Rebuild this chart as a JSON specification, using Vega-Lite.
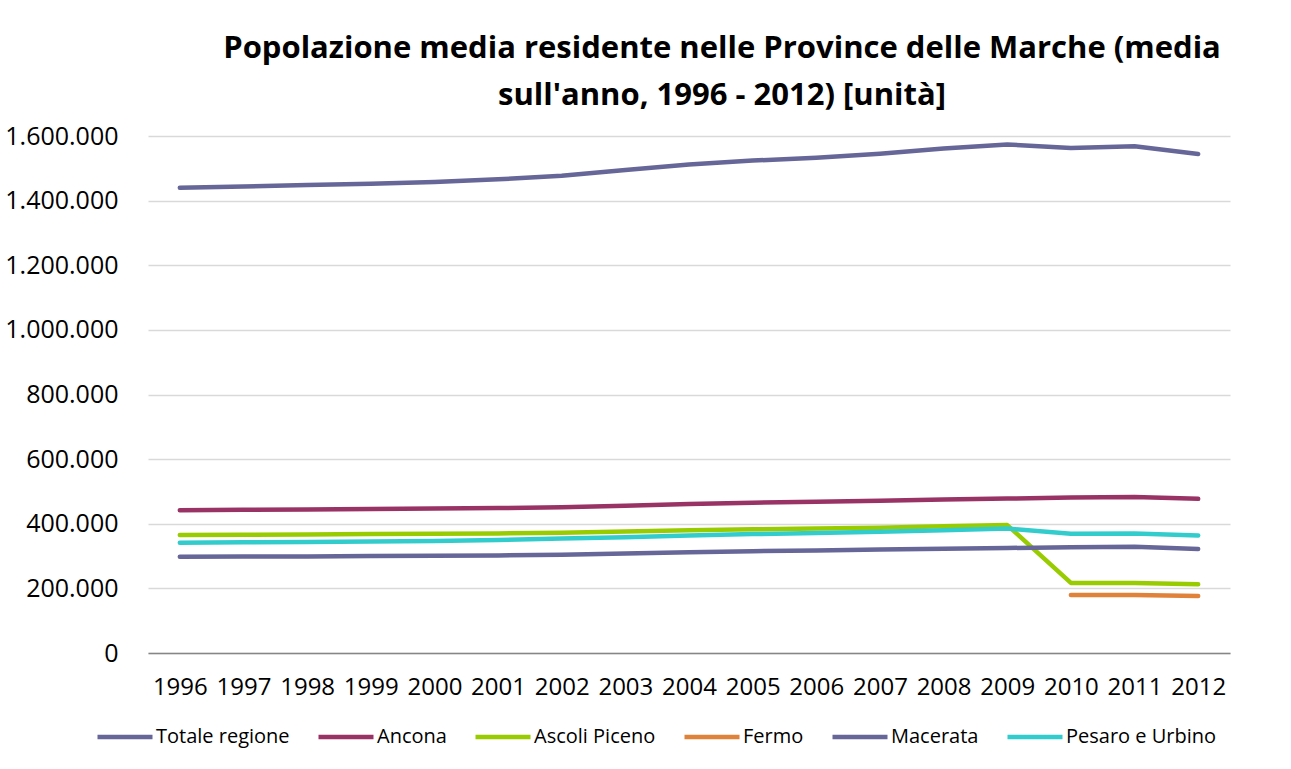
{
  "$schema": "https://vega.github.io/schema/vega-lite/v6.json",
  "width": 1082,
  "height": 517,
  "autosize": {"type": "none"},
  "padding": {"left": 148, "top": 136, "right": 61, "bottom": 116},
  "background": "white",
  "config": {
    "locale": {"number": {"decimal": ",", "thousands": ".", "grouping": [3], "currency": ["€", ""]}},
    "view": {"stroke": null},
    "font": "Open Sans"
  },
  "title": {
    "text": ["Popolazione media residente nelle Province delle Marche (media", "sull'anno, 1996 - 2012) [unità]"],
    "fontSize": 31,
    "fontWeight": "bold",
    "font": "Open Sans",
    "anchor": "middle",
    "dx": 33,
    "offset": 12,
    "lineHeight": 47,
    "color": "black"
  },
  "data": {
    "values": [
      {"anno": "1996", "provincia": "Totale regione", "valore": 1440000},
      {"anno": "1997", "provincia": "Totale regione", "valore": 1444000},
      {"anno": "1998", "provincia": "Totale regione", "valore": 1448000},
      {"anno": "1999", "provincia": "Totale regione", "valore": 1452000},
      {"anno": "2000", "provincia": "Totale regione", "valore": 1458000},
      {"anno": "2001", "provincia": "Totale regione", "valore": 1466000},
      {"anno": "2002", "provincia": "Totale regione", "valore": 1477000},
      {"anno": "2003", "provincia": "Totale regione", "valore": 1495000},
      {"anno": "2004", "provincia": "Totale regione", "valore": 1512000},
      {"anno": "2005", "provincia": "Totale regione", "valore": 1524000},
      {"anno": "2006", "provincia": "Totale regione", "valore": 1533000},
      {"anno": "2007", "provincia": "Totale regione", "valore": 1545000},
      {"anno": "2008", "provincia": "Totale regione", "valore": 1561000},
      {"anno": "2009", "provincia": "Totale regione", "valore": 1574000},
      {"anno": "2010", "provincia": "Totale regione", "valore": 1563000},
      {"anno": "2011", "provincia": "Totale regione", "valore": 1568000},
      {"anno": "2012", "provincia": "Totale regione", "valore": 1544000},

      {"anno": "1996", "provincia": "Ancona", "valore": 442000},
      {"anno": "1997", "provincia": "Ancona", "valore": 443000},
      {"anno": "1998", "provincia": "Ancona", "valore": 444000},
      {"anno": "1999", "provincia": "Ancona", "valore": 445500},
      {"anno": "2000", "provincia": "Ancona", "valore": 447000},
      {"anno": "2001", "provincia": "Ancona", "valore": 448500},
      {"anno": "2002", "provincia": "Ancona", "valore": 451000},
      {"anno": "2003", "provincia": "Ancona", "valore": 456000},
      {"anno": "2004", "provincia": "Ancona", "valore": 461000},
      {"anno": "2005", "provincia": "Ancona", "valore": 465000},
      {"anno": "2006", "provincia": "Ancona", "valore": 468000},
      {"anno": "2007", "provincia": "Ancona", "valore": 471000},
      {"anno": "2008", "provincia": "Ancona", "valore": 475000},
      {"anno": "2009", "provincia": "Ancona", "valore": 478000},
      {"anno": "2010", "provincia": "Ancona", "valore": 481000},
      {"anno": "2011", "provincia": "Ancona", "valore": 483000},
      {"anno": "2012", "provincia": "Ancona", "valore": 477000},

      {"anno": "1996", "provincia": "Ascoli Piceno", "valore": 365000},
      {"anno": "1997", "provincia": "Ascoli Piceno", "valore": 366000},
      {"anno": "1998", "provincia": "Ascoli Piceno", "valore": 367000},
      {"anno": "1999", "provincia": "Ascoli Piceno", "valore": 368000},
      {"anno": "2000", "provincia": "Ascoli Piceno", "valore": 369000},
      {"anno": "2001", "provincia": "Ascoli Piceno", "valore": 370000},
      {"anno": "2002", "provincia": "Ascoli Piceno", "valore": 372000},
      {"anno": "2003", "provincia": "Ascoli Piceno", "valore": 376000},
      {"anno": "2004", "provincia": "Ascoli Piceno", "valore": 380000},
      {"anno": "2005", "provincia": "Ascoli Piceno", "valore": 383000},
      {"anno": "2006", "provincia": "Ascoli Piceno", "valore": 385000},
      {"anno": "2007", "provincia": "Ascoli Piceno", "valore": 388000},
      {"anno": "2008", "provincia": "Ascoli Piceno", "valore": 392000},
      {"anno": "2009", "provincia": "Ascoli Piceno", "valore": 396000},
      {"anno": "2010", "provincia": "Ascoli Piceno", "valore": 217000},
      {"anno": "2011", "provincia": "Ascoli Piceno", "valore": 216500},
      {"anno": "2012", "provincia": "Ascoli Piceno", "valore": 213000},

      {"anno": "2010", "provincia": "Fermo", "valore": 179500},
      {"anno": "2011", "provincia": "Fermo", "valore": 179500},
      {"anno": "2012", "provincia": "Fermo", "valore": 176500},

      {"anno": "1996", "provincia": "Macerata", "valore": 298000},
      {"anno": "1997", "provincia": "Macerata", "valore": 298500},
      {"anno": "1998", "provincia": "Macerata", "valore": 299000},
      {"anno": "1999", "provincia": "Macerata", "valore": 300000},
      {"anno": "2000", "provincia": "Macerata", "valore": 301000},
      {"anno": "2001", "provincia": "Macerata", "valore": 302000},
      {"anno": "2002", "provincia": "Macerata", "valore": 304000},
      {"anno": "2003", "provincia": "Macerata", "valore": 308000},
      {"anno": "2004", "provincia": "Macerata", "valore": 312000},
      {"anno": "2005", "provincia": "Macerata", "valore": 315000},
      {"anno": "2006", "provincia": "Macerata", "valore": 317000},
      {"anno": "2007", "provincia": "Macerata", "valore": 320000},
      {"anno": "2008", "provincia": "Macerata", "valore": 323000},
      {"anno": "2009", "provincia": "Macerata", "valore": 325000},
      {"anno": "2010", "provincia": "Macerata", "valore": 327000},
      {"anno": "2011", "provincia": "Macerata", "valore": 328500},
      {"anno": "2012", "provincia": "Macerata", "valore": 322000},

      {"anno": "1996", "provincia": "Pesaro e Urbino", "valore": 341500},
      {"anno": "1997", "provincia": "Pesaro e Urbino", "valore": 342500},
      {"anno": "1998", "provincia": "Pesaro e Urbino", "valore": 343500},
      {"anno": "1999", "provincia": "Pesaro e Urbino", "valore": 345000},
      {"anno": "2000", "provincia": "Pesaro e Urbino", "valore": 347000},
      {"anno": "2001", "provincia": "Pesaro e Urbino", "valore": 350000},
      {"anno": "2002", "provincia": "Pesaro e Urbino", "valore": 354000},
      {"anno": "2003", "provincia": "Pesaro e Urbino", "valore": 358000},
      {"anno": "2004", "provincia": "Pesaro e Urbino", "valore": 364000},
      {"anno": "2005", "provincia": "Pesaro e Urbino", "valore": 368000},
      {"anno": "2006", "provincia": "Pesaro e Urbino", "valore": 371000},
      {"anno": "2007", "provincia": "Pesaro e Urbino", "valore": 375000},
      {"anno": "2008", "provincia": "Pesaro e Urbino", "valore": 380000},
      {"anno": "2009", "provincia": "Pesaro e Urbino", "valore": 385000},
      {"anno": "2010", "provincia": "Pesaro e Urbino", "valore": 369000},
      {"anno": "2011", "provincia": "Pesaro e Urbino", "valore": 369500},
      {"anno": "2012", "provincia": "Pesaro e Urbino", "valore": 364000}
    ]
  },
  "mark": {"type": "line", "strokeWidth": 4.5, "strokeCap": "round", "strokeJoin": "round"},
  "encoding": {
    "x": {
      "field": "anno",
      "type": "ordinal",
      "scale": {"type": "point", "padding": 0.5},
      "axis": {
        "title": null,
        "labelAngle": 0,
        "labelFontSize": 24,
        "labelColor": "black",
        "labelPadding": 22,
        "domainColor": "#868686",
        "domainWidth": 1.5,
        "ticks": false,
        "grid": false
      }
    },
    "y": {
      "field": "valore",
      "type": "quantitative",
      "scale": {"domain": [0, 1600000], "nice": false},
      "axis": {
        "title": null,
        "values": [0, 200000, 400000, 600000, 800000, 1000000, 1200000, 1400000, 1600000],
        "format": ",d",
        "labelFontSize": 25,
        "labelColor": "black",
        "labelPadding": 30,
        "domain": false,
        "ticks": false,
        "gridColor": "#D9D9D9",
        "gridWidth": 1.5
      }
    },
    "color": {
      "field": "provincia",
      "type": "nominal",
      "scale": {
        "domain": ["Totale regione", "Ancona", "Ascoli Piceno", "Fermo", "Macerata", "Pesaro e Urbino"],
        "range": ["#666699", "#993366", "#99CC00", "#E0823A", "#666699", "#33CCCC"]
      },
      "legend": {
        "title": null,
        "orient": "none",
        "legendX": -53,
        "legendY": 571,
        "direction": "horizontal",
        "columns": 6,
        "symbolType": "stroke",
        "symbolSize": 3025,
        "symbolStrokeWidth": 4.5,
        "labelFontSize": 20,
        "labelColor": "black",
        "labelOffset": 1,
        "columnPadding": 19
      }
    }
  }
}
